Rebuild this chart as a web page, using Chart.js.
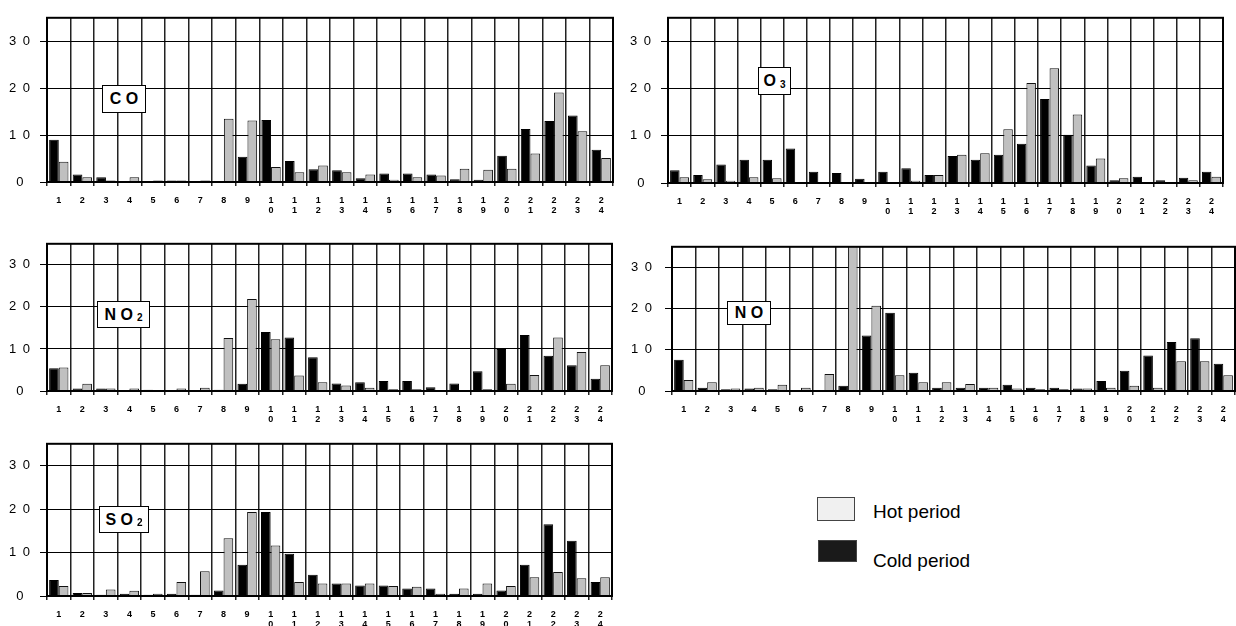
<!DOCTYPE html>
<html>
<head>
<meta charset="utf-8">
<script src="https://cdn.jsdelivr.net/npm/chart.js@4.4.1/dist/chart.umd.min.js"></script>
<style>
body{margin:0;background:#fff;width:1236px;height:626px;position:relative;overflow:hidden;font-family:Arial,"Liberation Sans",sans-serif}
canvas{position:absolute}
.tag{position:absolute;border:1px solid #000;background:#fff;font-weight:bold;font-size:16px;display:flex;align-items:center;justify-content:center;box-sizing:border-box;color:#000;white-space:pre}
.tag sub{font-size:10px;position:relative;top:3px;vertical-align:baseline;margin-left:4px}
.lbox{position:absolute;box-sizing:border-box;border:1px solid #444}
.ltxt{position:absolute;font-size:19px;color:#000;line-height:1}
</style>
</head>
<body>
<div class="lbox" style="left:817px;top:497px;width:38px;height:24px;background:#f0f0f0"></div>
<div class="ltxt" style="left:873px;top:502px">Hot period</div>
<div class="lbox" style="left:818px;top:540px;width:39px;height:22px;background:#1a1a1a"></div>
<div class="ltxt" style="left:873px;top:551px">Cold period</div>
<script>
const hours = ['1','2','3','4','5','6','7','8','9','10','11','12','13','14','15','16','17','18','19','20','21','22','23','24']
const tickLabels = hours.map(h => h.split(''))
const yTicks = [0, 10, 20, 30]

const coCold = [9.0, 1.6, 1.0, 0, 0, 0.3, 0, 0, 5.4, 13.2, 4.5, 2.7, 2.5, 0.8, 1.8, 1.8, 1.6, 0.6, 0.5, 5.6, 11.3, 13.0, 14.2, 6.9]
const coHot = [4.3, 1.0, 0.3, 1.0, 0.3, 0.3, 0.3, 13.5, 13.1, 3.2, 2.1, 3.5, 2.1, 1.6, 0.5, 1.0, 1.4, 2.8, 2.6, 2.8, 6.1, 19.1, 10.8, 5.1]

const o3Cold = [2.7, 1.7, 3.9, 4.9, 4.9, 7.3, 2.4, 2.1, 0.9, 2.4, 3.1, 1.7, 5.7, 4.9, 6.0, 8.3, 17.8, 10.2, 3.7, 0.6, 1.3, 0.6, 1.1, 2.4]
const o3Hot = [1.2, 0.8, 0.5, 1.2, 1.0, 0.1, 0, 0, 0, 0, 0.5, 1.7, 6.0, 6.3, 11.4, 21.2, 24.3, 14.5, 5.2, 1.0, 0, 0, 0.6, 1.3]

const no2Cold = [5.4, 0.6, 0.6, 0, 0.3, 0, 0, 0.3, 1.7, 14.0, 12.7, 8.0, 1.8, 2.1, 2.4, 2.4, 0.9, 1.8, 4.7, 10.0, 13.3, 8.4, 6.1, 2.9]
const no2Hot = [5.6, 1.7, 0.6, 0.6, 0, 0.6, 0.8, 12.6, 21.9, 12.3, 3.7, 2.1, 1.3, 0.8, 0.4, 0.4, 0.1, 0, 0.4, 1.7, 3.8, 12.7, 9.3, 6.1]

const noCold = [7.6, 0.8, 0.4, 0.6, 0.4, 0, 0, 1.3, 13.5, 19.0, 4.4, 0.8, 0.8, 0.8, 1.5, 0.8, 0.8, 0.6, 2.4, 4.9, 8.6, 11.9, 12.8, 6.6]
const noHot = [2.7, 2.1, 0.6, 0.8, 1.5, 0.8, 4.1, 40, 20.7, 3.8, 2.1, 2.1, 1.7, 0.8, 0.6, 0.4, 0.4, 0.6, 0.8, 1.3, 0.8, 7.2, 7.2, 3.8]

const so2Cold = [3.7, 0.7, 0.3, 0.5, 0.3, 0.5, 0.3, 1.25, 7.2, 19.3, 9.7, 4.9, 2.9, 2.4, 2.4, 1.7, 1.7, 0.5, 0.5, 1.25, 7.2, 16.5, 12.7, 3.2]
const so2Hot = [2.3, 0.7, 1.5, 1.2, 0.5, 3.2, 5.7, 13.3, 19.3, 11.6, 3.2, 2.9, 2.9, 2.9, 2.3, 2.1, 0.5, 1.7, 2.9, 2.3, 4.3, 5.5, 4.1, 4.3]

const family = 'Arial, "Liberation Sans", sans-serif'

const frame = {
    id: 'frame',
    afterDraw(chart){
        const {ctx, chartArea: a} = chart
        ctx.save()
        ctx.strokeStyle = '#000'
        ctx.lineWidth = 2
        ctx.strokeRect(a.left, a.top, a.right - a.left, a.bottom - a.top)
        ctx.restore()
    }
}

function makePanel(p){
    const c = document.createElement('canvas')
    c.width = p.w
    c.height = p.h
    c.style.left = p.x + 'px'
    c.style.top = p.y + 'px'
    c.style.width = p.w + 'px'
    c.style.height = p.h + 'px'
    document.body.insertBefore(c, document.body.firstChild)

    new Chart(c, {
        type: 'bar',
        data: {
            labels: tickLabels,
            datasets: [
                {label: 'Cold period', data: p.cold, backgroundColor: '#000', borderColor: '#000', borderWidth: 1},
                {label: 'Hot period', data: p.hot, backgroundColor: '#c0c0c0', borderColor: '#111', borderWidth: 1}
            ]
        },
        options: {
            responsive: false,
            animation: false,
            layout: {padding: {top: p.top - p.y, right: p.x + p.w - p.right, left: 0, bottom: 0}},
            plugins: {legend: {display: false}, tooltip: {enabled: false}},
            datasets: {bar: {categoryPercentage: 0.82, barPercentage: 1}},
            scales: {
                x: {
                    grid: {offset: true, color: '#222', lineWidth: 1.5, tickLength: 4},
                    border: {color: '#000', width: 2},
                    ticks: {color: '#000', font: {size: 9, weight: 'bold', family, lineHeight: 1.15}, padding: 9, maxRotation: 0, autoSkip: false},
                    afterFit: s => { s.height = p.y + p.h - p.bottom }
                },
                y: {
                    min: 0,
                    max: 35,
                    afterBuildTicks: s => { s.ticks = yTicks.map(v => ({value: v})) },
                    ticks: {
                        color: '#000',
                        font: {size: 13, family},
                        padding: p.tickPad,
                        callback: v => v === 0 ? '0\u2002' : String(v).split('').join('\u2002')
                    },
                    grid: {color: '#000', lineWidth: 1, tickLength: 7},
                    border: {color: '#000', width: 2},
                    afterFit: s => { s.width = p.left - p.x }
                }
            }
        },
        plugins: [frame]
    })
}

makePanel({x: 0, y: 0, w: 620, h: 226, left: 47, right: 613, top: 12, bottom: 182, tickPad: 10, cold: coCold, hot: coHot})
makePanel({x: 620, y: 0, w: 616, h: 226, left: 668, right: 1223, top: 10, bottom: 183, tickPad: 10, cold: o3Cold, hot: o3Hot})
makePanel({x: 0, y: 226, w: 620, h: 200, left: 47, right: 612, top: 233, bottom: 391, tickPad: 10, cold: no2Cold, hot: no2Hot})
makePanel({x: 620, y: 226, w: 616, h: 200, left: 672, right: 1235, top: 233, bottom: 391, tickPad: 13, cold: noCold, hot: noHot})
makePanel({x: 0, y: 426, w: 620, h: 200, left: 47, right: 612, top: 437, bottom: 596, tickPad: 10, cold: so2Cold, hot: so2Hot})
</script>
<div class="tag" style="left:102px;top:85px;width:44px;height:28px">C O</div>
<div class="tag" style="left:758px;top:67px;width:33px;height:28px">O<sub>3</sub></div>
<div class="tag" style="left:97px;top:301px;width:53px;height:27px">N O<sub>2</sub></div>
<div class="tag" style="left:727px;top:301px;width:44px;height:24px">N O</div>
<div class="tag" style="left:99px;top:506px;width:50px;height:27px">S O<sub>2</sub></div>
</body>
</html>
